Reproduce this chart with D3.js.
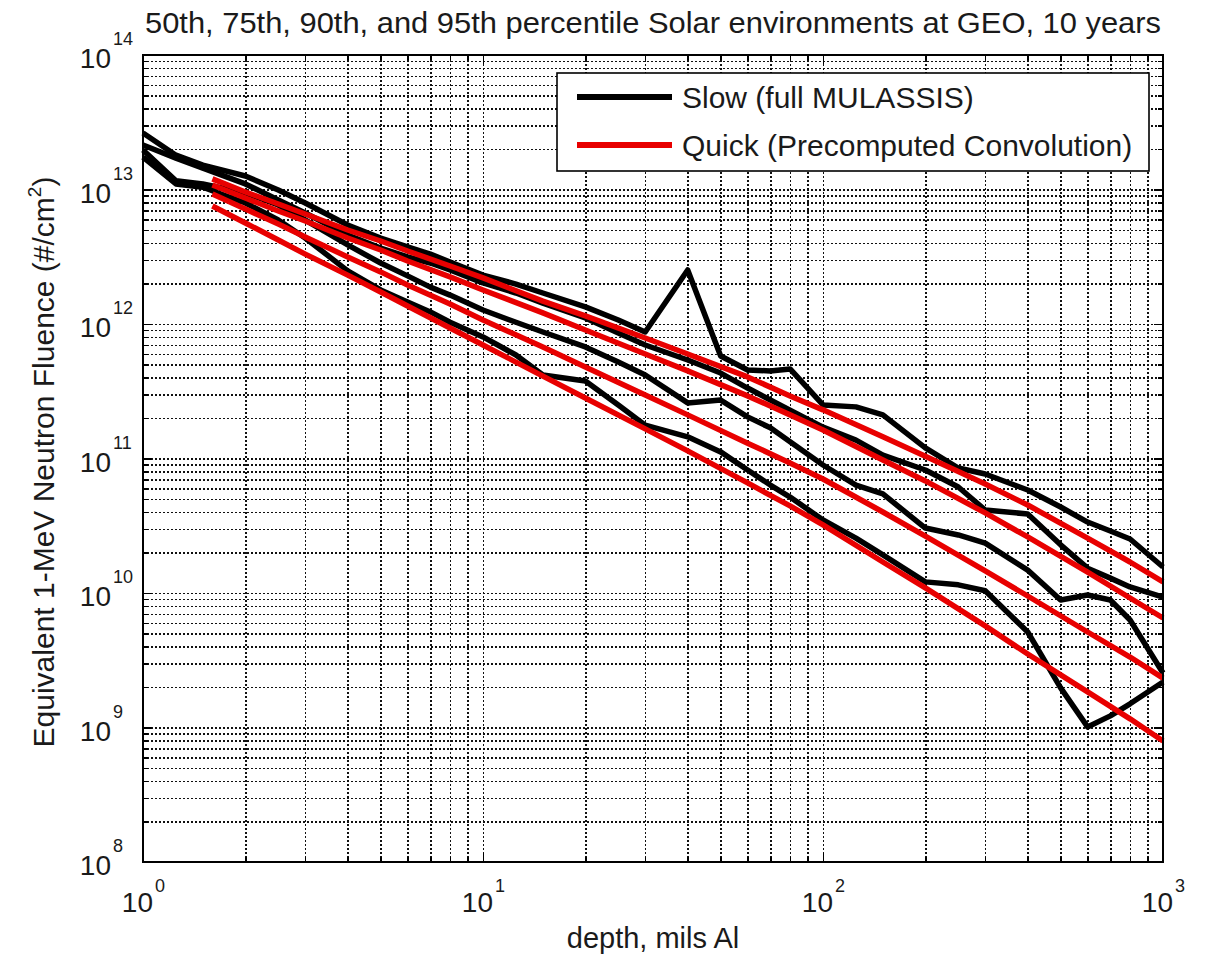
<!DOCTYPE html>
<html>
<head>
<meta charset="utf-8">
<script src="https://cdn.jsdelivr.net/npm/d3@7"></script>
<style>
  body { margin: 0; background: #fff; }
  svg text { font-family: "Liberation Sans", Arial, sans-serif; fill: #1a1a1a; }
  .grid line { stroke: #111; stroke-width: 1.5; stroke-dasharray: 2,2; shape-rendering: crispEdges; }
  .grid path, .ticks path { display: none; }
  .ticks line { stroke: #000; stroke-width: 1.5; shape-rendering: crispEdges; }
</style>
</head>
<body>
<svg id="chart" width="1209" height="960"></svg>
<script>
    'use strict';

    // depth, mils Al (slow / full MULASSIS runs)
    var depthSlow = [1, 1.25, 1.5, 2, 2.5, 3, 4, 5, 6, 7, 8, 10, 12.5, 15, 20, 25, 30, 40, 50, 60, 70, 80,
        100, 125, 150, 200, 250, 300, 400, 500, 600, 700, 800, 1000];
    var slow95 = [2.63e13, 1.80e13, 1.52e13, 1.26e13, 9.92e12, 7.94e12, 5.45e12, 4.36e12, 3.74e12, 3.31e12, 2.89e12,
        2.31e12, 1.98e12, 1.70e12, 1.34e12, 1.07e12, 8.72e11, 2.52e12, 5.78e11, 4.55e11, 4.48e11, 4.63e11,
        2.50e11, 2.42e11, 2.11e11, 1.20e11, 8.50e10, 7.67e10, 5.83e10, 4.36e10, 3.37e10, 2.89e10, 2.52e10, 1.56e10];
    var slow90 = [2.14e13, 1.71e13, 1.44e13, 1.10e13, 8.35e12, 6.69e12, 4.59e12, 3.67e12, 3.15e12, 2.84e12, 2.52e12,
        2.02e12, 1.70e12, 1.43e12, 1.11e12, 8.57e11, 6.98e11, 5.40e11, 4.32e11, 3.34e11, 2.72e11, 2.29e11,
        1.71e11, 1.37e11, 1.06e11, 8.21e10, 6.14e10, 4.14e10, 3.87e10, 2.28e10, 1.53e10, 1.29e10, 1.11e10, 9.33e9];
    var slow75 = [1.97e13, 1.16e13, 1.10e13, 9.42e12, 7.67e12, 5.93e12, 3.87e12, 2.84e12, 2.28e12, 1.88e12, 1.64e12,
        1.27e12, 1.03e12, 8.72e11, 6.75e11, 5.22e11, 4.18e11, 2.59e11, 2.72e11, 2.04e11, 1.69e11, 1.33e11,
        8.95e10, 6.35e10, 5.45e10, 3.04e10, 2.70e10, 2.35e10, 1.48e10, 8.87e9, 9.66e9, 8.87e9, 6.30e9, 2.54e9];
    var slow50 = [1.74e13, 1.10e13, 1.04e13, 7.94e12, 5.93e12, 4.36e12, 2.48e12, 1.79e12, 1.46e12, 1.23e12, 1.03e12,
        8.01e11, 5.88e11, 4.18e11, 3.77e11, 2.50e11, 1.77e11, 1.45e11, 1.12e11, 8.21e10, 6.35e10, 5.17e10,
        3.49e10, 2.56e10, 1.92e10, 1.21e10, 1.15e10, 1.04e10, 5.13e9, 1.97e9, 1.01e9, 1.22e9, 1.50e9, 2.18e9];

    // depth, mils Al (quick / precomputed convolution)
    var depthQuick = [1.6, 2, 2.5, 3, 4, 5, 6, 8, 10, 15, 20, 30, 40, 60, 80, 100, 150, 200, 300, 400, 600, 800, 1000];
    var quick95 = [1.20e13, 9.58e12, 7.80e12, 6.57e12, 5.00e12, 4.14e12, 3.49e12, 2.70e12, 2.20e12, 1.48e12, 1.15e12,
        7.87e11, 5.98e11, 4.04e11, 2.92e11, 2.30e11, 1.45e11, 1.04e11, 6.46e10, 4.51e10, 2.56e10, 1.70e10, 1.21e10];
    var quick90 = [1.08e13, 8.65e12, 6.92e12, 5.83e12, 4.36e12, 3.55e12, 2.94e12, 2.24e12, 1.79e12, 1.21e12, 9.02e11,
        5.98e11, 4.48e11, 2.92e11, 2.11e11, 1.63e11, 9.75e10, 6.81e10, 3.94e10, 2.61e10, 1.43e10, 9.18e9, 6.52e9];
    var quick75 = [9.26e12, 7.16e12, 5.54e12, 4.44e12, 3.15e12, 2.44e12, 1.95e12, 1.41e12, 1.07e12, 6.75e11, 4.79e11,
        2.97e11, 2.11e11, 1.30e11, 9.26e10, 7.04e10, 4.00e10, 2.65e10, 1.46e10, 9.50e9, 5.13e9, 3.34e9, 2.33e9];
    var quick50 = [7.54e12, 5.64e12, 4.21e12, 3.31e12, 2.31e12, 1.73e12, 1.36e12, 9.33e11, 6.98e11, 4.10e11, 2.82e11,
        1.66e11, 1.14e11, 6.58e10, 4.44e10, 3.21e10, 1.70e10, 1.09e10, 5.69e9, 3.52e9, 1.84e9, 1.16e9, 7.94e8];

    var xTickExp = [0, 1, 2, 3];
    var yTickExp = [8, 9, 10, 11, 12, 13, 14];
    var legendLabels = ["Slow (full MULASSIS)", "Quick (Precomputed Convolution)"];

(function() {
    var mLeft = 143, mRight = 1163, mTop = 55, mBottom = 862;
    var black = "#000", red = "#e80000";

    var svg = d3.select("#chart");
    var x = d3.scaleLog().domain([1, 1000]).range([mLeft, mRight]);
    var y = d3.scaleLog().domain([1e8, 1e14]).range([mBottom, mTop]);

    function decadeTicks(lo, hi) {
        var out = [];
        for (var e = lo; e < hi; e++) {
            for (var m = 1; m < 10; m++) out.push(m * Math.pow(10, e));
        }
        out.push(Math.pow(10, hi));
        return out;
    }
    var xAll = decadeTicks(0, 3), yAll = decadeTicks(8, 14);
    var xMajor = xTickExp.map(function(e) { return Math.pow(10, e); });
    var yMajor = yTickExp.map(function(e) { return Math.pow(10, e); });
    var xMinor = xAll.filter(function(v) { return xMajor.indexOf(v) < 0; });
    var yMinor = yAll.filter(function(v) { return yMajor.indexOf(v) < 0; });

    // dotted grid (all decades and sub-decades)
    svg.append("g").attr("class", "grid")
        .attr("transform", "translate(0," + mBottom + ")")
        .call(d3.axisBottom(x).tickValues(xAll.slice(1, -1)).tickSize(-(mBottom - mTop)).tickFormat(""));
    svg.append("g").attr("class", "grid")
        .attr("transform", "translate(" + mLeft + ",0)")
        .call(d3.axisLeft(y).tickValues(yAll.slice(1, -1)).tickSize(-(mRight - mLeft)).tickFormat(""));

    // inward tick marks on all four sides
    function ticks(axisFn, pos, values, size) {
        svg.append("g").attr("class", "ticks")
            .attr("transform", pos)
            .call(axisFn.tickValues(values).tickSize(-size).tickFormat(""));
    }
    ticks(d3.axisBottom(x), "translate(0," + mBottom + ")", xMajor, 9);
    ticks(d3.axisBottom(x), "translate(0," + mBottom + ")", xMinor, 5);
    ticks(d3.axisTop(x), "translate(0," + mTop + ")", xMajor, 9);
    ticks(d3.axisTop(x), "translate(0," + mTop + ")", xMinor, 5);
    ticks(d3.axisLeft(y), "translate(" + mLeft + ",0)", yMajor, 9);
    ticks(d3.axisLeft(y), "translate(" + mLeft + ",0)", yMinor, 5);
    ticks(d3.axisRight(y), "translate(" + mRight + ",0)", yMajor, 9);
    ticks(d3.axisRight(y), "translate(" + mRight + ",0)", yMinor, 5);

    // curves
    var line = d3.line()
        .x(function(d) { return x(d[0]); })
        .y(function(d) { return y(d[1]); });
    var plot = svg.append("g");
    [slow95, slow90, slow75, slow50].forEach(function(s) {
        plot.append("path").datum(d3.zip(depthSlow, s))
            .attr("d", line).attr("fill", "none").attr("stroke", black)
            .attr("stroke-width", 5.5).attr("stroke-linejoin", "round");
    });
    [quick95, quick90, quick75, quick50].forEach(function(s) {
        plot.append("path").datum(d3.zip(depthQuick, s))
            .attr("d", line).attr("fill", "none").attr("stroke", red)
            .attr("stroke-width", 5.5).attr("stroke-linejoin", "round");
    });

    // box
    svg.append("rect").attr("x", mLeft).attr("y", mTop)
        .attr("width", mRight - mLeft).attr("height", mBottom - mTop)
        .attr("fill", "none").attr("stroke", "#000").attr("stroke-width", 2);

    // tick labels 10^n
    xTickExp.forEach(function(e) {
        var px = x(Math.pow(10, e));
        svg.append("text").attr("x", px + 10).attr("y", mBottom + 50)
            .attr("text-anchor", "end").style("font-size", "28px").text("10");
        svg.append("text").attr("x", px + 12).attr("y", mBottom + 30)
            .style("font-size", "18px").text(e);
    });
    yTickExp.forEach(function(e) {
        var py = y(Math.pow(10, e));
        svg.append("text").attr("x", mLeft - 32).attr("y", py + 13)
            .attr("text-anchor", "end").style("font-size", "28px").text("10");
        svg.append("text").attr("x", mLeft - 30).attr("y", py - 10)
            .style("font-size", "18px").text(e);
    });

    // titles
    svg.append("text").attr("x", (mLeft + mRight) / 2).attr("y", 33)
        .attr("text-anchor", "middle").style("font-size", "30px")
        .attr("textLength", 1016).attr("lengthAdjust", "spacingAndGlyphs")
        .text("50th, 75th, 90th, and 95th percentile Solar environments at GEO, 10 years");
    svg.append("text").attr("x", (mLeft + mRight) / 2).attr("y", 948)
        .attr("text-anchor", "middle").style("font-size", "29px")
        .text("depth, mils Al");
    var yl = svg.append("text").attr("transform", "translate(54,462) rotate(-90)")
        .attr("text-anchor", "middle").style("font-size", "30px");
    yl.append("tspan").text("Equivalent 1-MeV Neutron Fluence (#/cm");
    yl.append("tspan").attr("dy", -13).style("font-size", "19px").text("2");
    yl.append("tspan").attr("dy", 13).text(")");

    // legend
    var lg = svg.append("g");
    lg.append("rect").attr("x", 557).attr("y", 73).attr("width", 592).attr("height", 98)
        .attr("fill", "#fff").attr("stroke", "#000").attr("stroke-width", 1.6);
    [black, red].forEach(function(c, i) {
        var ly = 97 + i * 48;
        lg.append("line").attr("x1", 577).attr("x2", 672).attr("y1", ly).attr("y2", ly)
            .attr("stroke", c).attr("stroke-width", 6);
        lg.append("text").attr("x", 682).attr("y", ly + 11)
            .style("font-size", "30px").text(legendLabels[i]);
    });
})();
</script>
</body>
</html>
